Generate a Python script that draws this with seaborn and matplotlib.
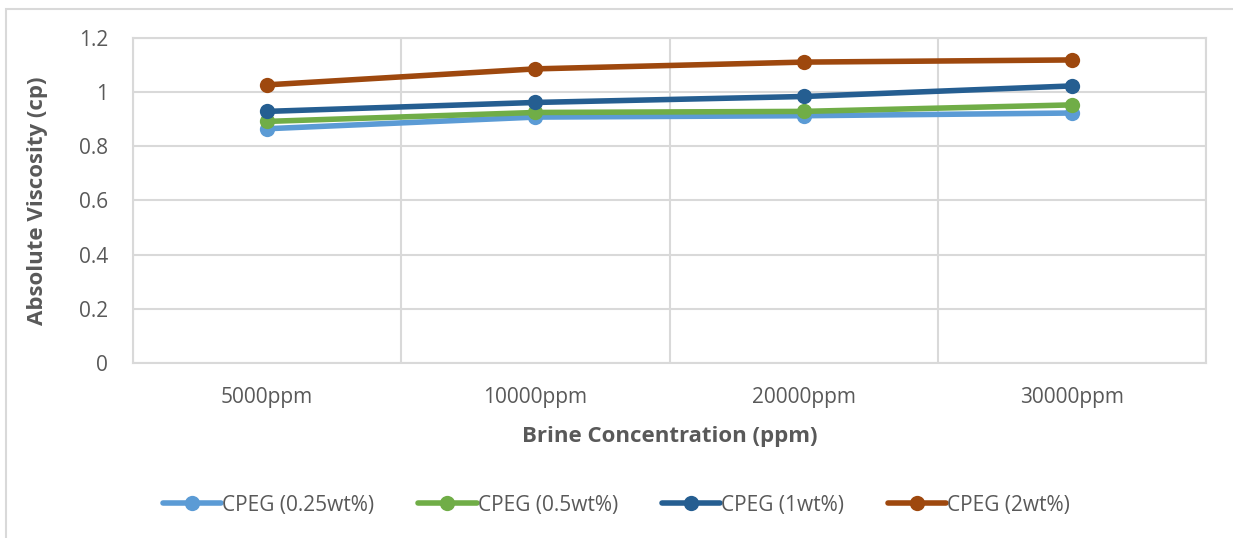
import numpy as np
import pandas as pd
import seaborn as sns
import matplotlib.pyplot as plt
from matplotlib.patches import Rectangle

categories = ["5000ppm", "10000ppm", "20000ppm", "30000ppm"]
series_names = ["CPEG (0.25wt%)", "CPEG (0.5wt%)", "CPEG (1wt%)", "CPEG (2wt%)"]
cpeg_025 = [0.865, 0.908, 0.913, 0.923]
cpeg_05 = [0.892, 0.925, 0.929, 0.953]
cpeg_1 = [0.929, 0.962, 0.984, 1.023]
cpeg_2 = [1.027, 1.086, 1.111, 1.119]
colors = ["#5B9BD5", "#70AD47", "#255E91", "#9E480E"]
y_ticks = [0, 0.2, 0.4, 0.6, 0.8, 1.0, 1.2]
y_tick_labels = ["0", "0.2", "0.4", "0.6", "0.8", "1", "1.2"]

rows = []
for name, vals in zip(series_names, [cpeg_025, cpeg_05, cpeg_1, cpeg_2]):
    for i, (c, v) in enumerate(zip(categories, vals)):
        rows.append({"pos": i, "Brine": c, "Series": name, "Viscosity": v})
df = pd.DataFrame(rows)

sns.set_theme(style="white")
plt.rcParams['font.family'] = ['Open Sans', 'DejaVu Sans']
text_color = "#595959"
grid_color = "#D9D9D9"

fig = plt.figure(figsize=(12.33, 5.38), dpi=100)
ax = fig.add_axes([133/1233, 1-363/538, (1206-133)/1233, (363-38)/538])

# outer chart border
fig.patches.append(Rectangle((6/1233, -0.1), 1.5, 1-9/538+0.1, transform=fig.transFigure,
                             fill=False, edgecolor=grid_color, linewidth=1.5, zorder=0))

sns.lineplot(data=df, x="pos", y="Viscosity", hue="Series", hue_order=series_names,
             palette=colors, marker="o", markersize=11, markeredgewidth=0,
             linewidth=4, ax=ax, legend=True)

ax.set_xlim(-0.5, 3.5)
ax.set_ylim(0, 1.2)
ax.set_xticks(range(len(categories)))
ax.set_xticklabels(categories)
ax.set_xticks([-0.5, 0.5, 1.5, 2.5, 3.5], minor=True)
ax.set_yticks(y_ticks)
ax.set_yticklabels(y_tick_labels)
ax.grid(False)
ax.yaxis.grid(True, color=grid_color, linewidth=1.5)
ax.xaxis.grid(True, which="minor", color=grid_color, linewidth=1.5)
ax.set_axisbelow(True)
for s in ax.spines.values():
    s.set_color(grid_color)
    s.set_linewidth(1.5)
ax.tick_params(axis="both", which="both", length=0, labelsize=15, colors=text_color)
ax.tick_params(axis="x", pad=17)
ax.tick_params(axis="y", pad=18)
ax.set_xlabel("Brine Concentration (ppm)", fontsize=16, fontweight="bold", color=text_color, labelpad=13)
ax.set_ylabel("Absolute Viscosity (cp)", fontsize=16, fontweight="bold", color=text_color, labelpad=22)

handles, labels = ax.get_legend_handles_labels()
ax.legend(handles, labels, loc="center", bbox_to_anchor=(0.5, 1-505/538), bbox_transform=fig.transFigure,
          ncol=4, frameon=False, fontsize=15, handlelength=2.8, handletextpad=0.05, columnspacing=2.1,
          labelcolor=text_color)

fig.savefig("out.png", dpi=100, facecolor="white")
